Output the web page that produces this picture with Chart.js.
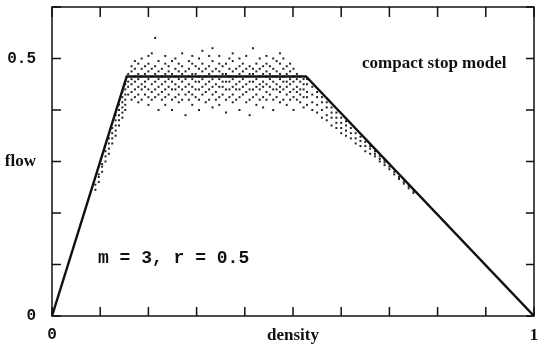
<!DOCTYPE html>
<html>
<head>
<meta charset="utf-8">
<script src="https://cdn.jsdelivr.net/npm/chart.js@4"></script>
<style>
  html, body { margin: 0; padding: 0; background: #fff; }
  canvas { display: block; }
</style>
</head>
<body>
<canvas id="myChart" width="538" height="352"></canvas>
<script>
"use strict";

// model line (density, flow)
const lineDensity = [0, 0.155, 0.527, 1];
const lineFlow = [0, 0.465, 0.465, 0];

// simulation points, one column of flows per density
const simDensity = [
  0.090, 0.097, 0.104, 0.111, 0.118, 0.125, 0.132, 0.139, 0.146, 0.152,
  0.158, 0.165, 0.172, 0.179, 0.186, 0.193, 0.200, 0.207, 0.214, 0.221,
  0.228, 0.235, 0.242, 0.249, 0.256, 0.263, 0.270, 0.277, 0.284, 0.291,
  0.298, 0.305, 0.312, 0.319, 0.326, 0.333, 0.340, 0.347, 0.354, 0.361,
  0.368, 0.375, 0.382, 0.389, 0.396, 0.403, 0.410, 0.417, 0.424, 0.431,
  0.438, 0.445, 0.452, 0.459, 0.466, 0.473, 0.480, 0.487, 0.494, 0.501,
  0.508, 0.515, 0.522, 0.529,
  0.540, 0.550, 0.560, 0.570, 0.580, 0.590, 0.600, 0.610, 0.620, 0.630,
  0.640, 0.650, 0.660, 0.670, 0.680, 0.690, 0.700, 0.710, 0.720, 0.730,
  0.740, 0.750
];
const simFlow = [
  [0.245, 0.255], [0.26, 0.27, 0.275], [0.28, 0.29, 0.295], [0.30, 0.31, 0.32],
  [0.315, 0.325, 0.335, 0.345], [0.335, 0.345, 0.355, 0.365],
  [0.35, 0.36, 0.37, 0.38, 0.39], [0.37, 0.38, 0.39, 0.40, 0.41],
  [0.385, 0.395, 0.405, 0.415, 0.425, 0.435], [0.40, 0.41, 0.42, 0.43, 0.44, 0.45],
  [0.43, 0.445, 0.455, 0.47], [0.42, 0.435, 0.45, 0.46, 0.475, 0.485],
  [0.425, 0.44, 0.455, 0.465, 0.48, 0.495], [0.415, 0.43, 0.445, 0.46, 0.47, 0.49],
  [0.42, 0.44, 0.45, 0.465, 0.48, 0.50], [0.43, 0.445, 0.455, 0.47, 0.485],
  [0.41, 0.425, 0.44, 0.46, 0.475, 0.49, 0.505], [0.42, 0.435, 0.45, 0.465, 0.48, 0.51],
  [0.425, 0.44, 0.455, 0.47, 0.485, 0.54], [0.40, 0.43, 0.445, 0.46, 0.475, 0.495],
  [0.42, 0.435, 0.45, 0.465, 0.48], [0.41, 0.425, 0.44, 0.455, 0.47, 0.49, 0.505],
  [0.43, 0.445, 0.46, 0.475, 0.485], [0.40, 0.42, 0.44, 0.455, 0.47, 0.495],
  [0.425, 0.44, 0.45, 0.465, 0.48, 0.50], [0.415, 0.43, 0.445, 0.46, 0.475, 0.49],
  [0.42, 0.44, 0.455, 0.47, 0.485, 0.51], [0.39, 0.43, 0.445, 0.46, 0.475],
  [0.42, 0.435, 0.45, 0.465, 0.48, 0.495], [0.41, 0.43, 0.445, 0.46, 0.47, 0.49, 0.505],
  [0.425, 0.44, 0.455, 0.47, 0.485], [0.40, 0.42, 0.44, 0.455, 0.465, 0.48, 0.50],
  [0.43, 0.445, 0.46, 0.475, 0.49, 0.515], [0.415, 0.435, 0.45, 0.465, 0.48],
  [0.42, 0.44, 0.455, 0.47, 0.485, 0.505], [0.405, 0.43, 0.445, 0.46, 0.475, 0.495, 0.52],
  [0.42, 0.435, 0.45, 0.465, 0.48], [0.41, 0.425, 0.445, 0.46, 0.475, 0.49, 0.505],
  [0.43, 0.445, 0.455, 0.47, 0.485], [0.395, 0.42, 0.44, 0.455, 0.47, 0.49],
  [0.425, 0.44, 0.455, 0.465, 0.48, 0.50], [0.415, 0.43, 0.445, 0.46, 0.475, 0.495, 0.51],
  [0.42, 0.44, 0.45, 0.465, 0.48], [0.40, 0.425, 0.44, 0.455, 0.47, 0.485, 0.50],
  [0.43, 0.445, 0.46, 0.475, 0.49], [0.415, 0.435, 0.45, 0.465, 0.48, 0.505],
  [0.39, 0.42, 0.44, 0.455, 0.47, 0.485], [0.425, 0.44, 0.455, 0.47, 0.48, 0.52],
  [0.41, 0.43, 0.445, 0.46, 0.475, 0.49], [0.42, 0.44, 0.45, 0.465, 0.48, 0.50],
  [0.405, 0.425, 0.445, 0.455, 0.47, 0.485], [0.42, 0.435, 0.45, 0.465, 0.475, 0.49, 0.505],
  [0.43, 0.445, 0.46, 0.47, 0.485], [0.40, 0.42, 0.44, 0.455, 0.465, 0.48, 0.50],
  [0.425, 0.44, 0.45, 0.465, 0.475, 0.495], [0.415, 0.435, 0.445, 0.46, 0.47, 0.49, 0.51],
  [0.42, 0.44, 0.455, 0.465, 0.48, 0.50], [0.41, 0.43, 0.445, 0.455, 0.47, 0.485],
  [0.42, 0.435, 0.45, 0.46, 0.475, 0.49], [0.40, 0.425, 0.44, 0.455, 0.465, 0.48],
  [0.42, 0.435, 0.445, 0.46, 0.47], [0.415, 0.43, 0.44, 0.455, 0.465],
  [0.405, 0.425, 0.44, 0.45, 0.46], [0.41, 0.425, 0.435, 0.45, 0.46],
  [0.40, 0.415, 0.43, 0.445], [0.395, 0.41, 0.425, 0.435], [0.385, 0.40, 0.415, 0.425],
  [0.38, 0.39, 0.405, 0.415], [0.37, 0.385, 0.395, 0.405], [0.365, 0.375, 0.385, 0.395],
  [0.355, 0.365, 0.375, 0.385], [0.35, 0.36, 0.37, 0.378], [0.345, 0.355, 0.365],
  [0.335, 0.345, 0.355], [0.33, 0.34, 0.348], [0.32, 0.33, 0.338], [0.315, 0.325, 0.33],
  [0.31, 0.315, 0.32], [0.30, 0.305, 0.31], [0.293, 0.298, 0.302], [0.285, 0.29],
  [0.275, 0.28], [0.266, 0.27], [0.257, 0.261], [0.248, 0.252], [0.239, 0.243]
];

// axes
const xTickValues = [0, 0.5, 1];
const xTickText = ["0", "density", "1"];
const yTickValues = [0, 0.3, 0.5];
const yTickText = ["0", "flow", "0.5"];

const modelLabel = "compact stop model";
const paramLabel = "m = 3, r = 0.5";

const serif = { family: "'Liberation Serif', serif", size: 17, weight: "bold" };
const mono = { family: "'Liberation Mono', monospace", size: 16, weight: "bold" };

function findLabel(values, texts, v) {
  const i = values.findIndex((t) => Math.abs(t - v) < 1e-6);
  return i < 0 ? "" : texts[i];
}
function isSerif(s) {
  return /[a-z1]/.test(s);
}

const simPoints = [];
simDensity.forEach((d, i) => simFlow[i].forEach((f) => simPoints.push({ x: d, y: f })));
const linePoints = lineDensity.map((d, i) => ({ x: d, y: lineFlow[i] }));

const frame = {
  id: "frame",
  afterDraw(chart) {
    const { ctx, chartArea: a, scales } = chart;
    ctx.save();
    ctx.strokeStyle = "#111";
    ctx.lineWidth = 1.5;
    ctx.strokeRect(a.left, a.top, a.right - a.left, a.bottom - a.top);
    ctx.beginPath();
    scales.x.ticks.forEach((t) => {
      const px = scales.x.getPixelForValue(t.value);
      ctx.moveTo(px, a.bottom); ctx.lineTo(px, a.bottom - 9);
      ctx.moveTo(px, a.top); ctx.lineTo(px, a.top + 10);
    });
    scales.y.ticks.forEach((t) => {
      const py = scales.y.getPixelForValue(t.value);
      ctx.moveTo(a.left, py); ctx.lineTo(a.left + 9, py);
      ctx.moveTo(a.right, py); ctx.lineTo(a.right - 8, py);
    });
    ctx.stroke();

    ctx.fillStyle = "#111";
    ctx.textBaseline = "middle";
    ctx.textAlign = "left";
    ctx.font = "bold 17px 'Liberation Serif', serif";
    ctx.fillText(modelLabel, 362, 64);
    ctx.font = "bold 18px 'Liberation Mono', monospace";
    ctx.fillText(paramLabel, 98, 258);
    ctx.restore();
  },
};

new Chart(document.getElementById("myChart"), {
  type: "scatter",
  data: {
    datasets: [
      {
        data: simPoints,
        pointStyle: "rect",
        pointRadius: 1.4,
        borderWidth: 0,
        backgroundColor: "#222",
        order: 2,
      },
      {
        data: linePoints,
        showLine: true,
        pointRadius: 0,
        borderColor: "#111",
        borderWidth: 2.4,
        order: 1,
      },
    ],
  },
  options: {
    responsive: false,
    animation: false,
    devicePixelRatio: 1,
    layout: { padding: { top: 7, right: 3, left: 0, bottom: 0 } },
    plugins: {
      legend: { display: false },
      tooltip: { enabled: false },
    },
    scales: {
      x: {
        type: "linear",
        min: 0,
        max: 1,
        afterFit: (scale) => {
          scale.height = 36;
          scale.paddingLeft = 0;
          scale.paddingRight = 0;
        },
        border: { display: false },
        grid: { display: false, drawTicks: false },
        ticks: {
          stepSize: 0.1,
          autoSkip: false,
          maxRotation: 0,
          padding: 9,
          color: "#111",
          font: (c) => (c.tick && isSerif(findLabel(xTickValues, xTickText, c.tick.value)) ? serif : mono),
          callback: (v) => findLabel(xTickValues, xTickText, v),
        },
      },
      y: {
        type: "linear",
        min: 0,
        max: 0.6,
        afterFit: (scale) => {
          scale.width = 52;
          scale.paddingTop = 0;
          scale.paddingBottom = 0;
        },
        border: { display: false },
        grid: { display: false, drawTicks: false },
        ticks: {
          stepSize: 0.1,
          autoSkip: false,
          padding: 16,
          color: "#111",
          font: (c) => (c.tick && isSerif(findLabel(yTickValues, yTickText, c.tick.value)) ? serif : mono),
          callback: (v) => findLabel(yTickValues, yTickText, v),
        },
      },
    },
  },
  plugins: [frame],
});
</script>
</body>
</html>
